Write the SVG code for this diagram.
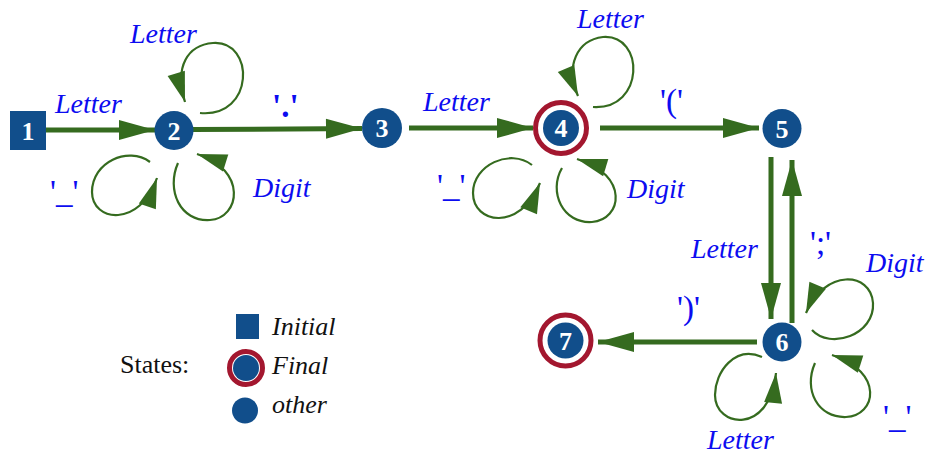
<svg xmlns="http://www.w3.org/2000/svg" width="927" height="455" viewBox="0 0 927 455">
<style>
.st{fill:#114e8b}
.fr{fill:#fff;stroke:#a3172f;stroke-width:5}
.num{font-family:"Liberation Serif",serif;font-weight:bold;font-size:26px;fill:#fff;text-anchor:middle}
.lbl{font-family:"Liberation Serif",serif;font-style:italic;font-size:28px;fill:#0c0cf0}
.chr{font-family:"Liberation Serif",serif;font-size:33px;fill:#0c0cf0}
.leg{font-family:"Liberation Serif",serif;font-size:26px;fill:#111}
.edge{stroke:#356b1f;stroke-width:5;fill:none;marker-end:url(#big)}
.loop{stroke:#356b1f;stroke-width:2.2;fill:none;marker-end:url(#small)}
</style>
<defs>
<marker id="big" markerUnits="userSpaceOnUse" markerWidth="36" markerHeight="20" refX="36" refY="10" orient="auto" overflow="visible">
<path d="M0,0 L36,10 L0,20 z" fill="#356b1f"/>
</marker>
<marker id="small" markerUnits="userSpaceOnUse" markerWidth="30" markerHeight="18" refX="30" refY="9" orient="auto" overflow="visible">
<path d="M0,0 L30,9 L0,18 z" fill="#356b1f"/>
</marker>
</defs>
<rect width="927" height="455" fill="#fff"/>
<g id="connectors">
<path class="edge" d="M46,130 L155,130"/>
<path class="edge" d="M193,129.5 L362,128.5"/>
<path class="edge" d="M409,128 L533,128"/>
<path class="edge" d="M600,128 L759,128"/>
<path class="edge" d="M771,157 L771,319"/>
<path class="edge" d="M792,323 L792,160"/>
<path class="edge" d="M757,342 L598,342"/>
<path class="loop" d="M200,113 C255,118 255,40 213,43 C188,45 174,66 185,102"/>
<path class="loop" d="M150,162 C128,146 92,162 92,192 C92,222 140,228 157,178"/>
<path class="loop" d="M178,163 C166,190 180,222 210,220 C240,218 248,170 197,154"/>
<path class="loop" d="M593,107 C645,110 645,34 603,37 C577,40 565,66 578,96"/>
<path class="loop" d="M532,165 C510,148 473,165 473,193 C473,224 520,232 540,183"/>
<path class="loop" d="M562,168 C548,192 563,224 592,222 C622,220 630,175 577,159"/>
<path class="loop" d="M812,330 C830,350 875,335 873,303 C871,272 825,268 806,313"/>
<path class="loop" d="M815,363 C803,390 818,418 846,417 C876,416 885,372 832,355"/>
<path class="loop" d="M762,357 C735,345 715,372 715,395 C715,428 770,435 776,373"/>
<text class="lbl" x="55" y="113">Letter</text>
<text class="lbl" x="130" y="43">Letter</text>
<text class="chr" x="50" y="203">'_'</text>
<text class="lbl" x="253" y="197">Digit</text>
<text class="chr" x="272" y="117" font-weight="bold" font-size="30">'.'</text>
<text class="lbl" x="423" y="111">Letter</text>
<text class="lbl" x="577" y="28">Letter</text>
<text class="chr" x="437" y="197">'_'</text>
<text class="lbl" x="627" y="198">Digit</text>
<text class="chr" x="660" y="112" font-size="35">'('</text>
<text class="lbl" x="691" y="258">Letter</text>
<text class="chr" x="810" y="254">';'</text>
<text class="lbl" x="866" y="272">Digit</text>
<text class="chr" x="677" y="319" font-size="35">')'</text>
<text class="chr" x="883" y="428">'_'</text>
<text class="lbl" x="707" y="449">Letter</text>
</g>
<g id="n1"><rect class="st" x="10" y="111" width="36" height="39"/><text class="num" x="28" y="139.5">1</text></g>
<g id="n2"><circle class="st" cx="174" cy="130.5" r="19.5"/><text class="num" x="174" y="139.5">2</text></g>
<g id="n3"><circle class="st" cx="382" cy="128" r="20"/><text class="num" x="382" y="137">3</text></g>
<g id="n4"><circle class="fr" cx="561" cy="128" r="25.5"/><circle class="st" cx="561" cy="128" r="18"/><text class="num" x="561" y="137" font-weight="normal">4</text></g>
<g id="n5"><circle class="st" cx="782" cy="128.5" r="19.5"/><text class="num" x="782" y="137.5">5</text></g>
<g id="n6"><circle class="st" cx="782" cy="342" r="19.5"/><text class="num" x="782" y="351">6</text></g>
<g id="n7"><circle class="fr" cx="565.5" cy="340.5" r="25.5"/><circle class="st" cx="565.5" cy="340.5" r="18"/><text class="num" x="565.5" y="349.5">7</text></g>
<g id="legend">
<text class="leg" x="120" y="373">States:</text>
<rect class="st" x="236" y="314" width="23" height="25"/>
<text class="leg" x="272" y="335" font-style="italic">Initial</text>
<circle class="fr" cx="246" cy="368" r="16.5"/>
<circle class="st" cx="246" cy="368" r="13"/>
<text class="leg" x="272" y="374" font-style="italic">Final</text>
<circle class="st" cx="245" cy="410.5" r="13"/>
<text class="leg" x="272" y="413" font-style="italic">other</text>
</g>
</svg>
